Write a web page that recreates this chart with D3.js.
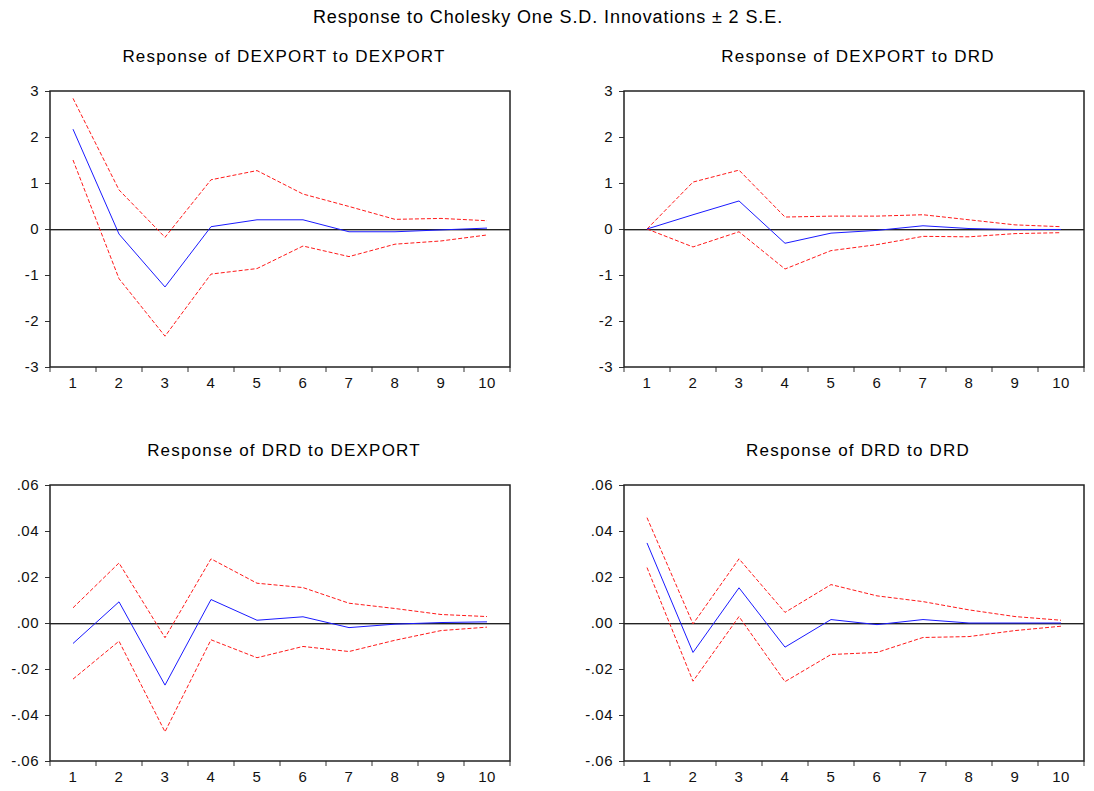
<!DOCTYPE html>
<html>
<head>
<meta charset="utf-8">
<script src="https://cdn.jsdelivr.net/npm/d3@7"></script>
<style>
  body { margin: 0; background: #fff; }
  svg { font-family: "Liberation Sans", Arial, sans-serif; }
</style>
</head>
<body>
<svg id="chart" width="1094" height="791"></svg>
<script>
// периоды
const periods = [1, 2, 3, 4, 5, 6, 7, 8, 9, 10];

// Response of DEXPORT to DEXPORT
const expExpResp  = [2.17, -0.11, -1.26, 0.05, 0.20, 0.20, -0.06, -0.06, -0.02, 0.02];
const expExpUpper = [2.84, 0.85, -0.18, 1.07, 1.27, 0.76, 0.49, 0.21, 0.23, 0.18];
const expExpLower = [1.50, -1.08, -2.33, -0.98, -0.86, -0.37, -0.60, -0.33, -0.26, -0.13];

// Response of DEXPORT to DRD
const expRdResp  = [0.00, 0.31, 0.61, -0.31, -0.09, -0.03, 0.07, 0.01, -0.01, -0.01];
const expRdUpper = [0.00, 1.02, 1.28, 0.26, 0.28, 0.28, 0.31, 0.20, 0.09, 0.05];
const expRdLower = [0.00, -0.39, -0.06, -0.87, -0.47, -0.34, -0.16, -0.17, -0.10, -0.08];

// Response of DRD to DEXPORT
const rdExpResp  = [-0.0089, 0.0092, -0.0270, 0.0102, 0.0012, 0.0027, -0.0020, -0.0005, 0.0002, 0.0005];
const rdExpUpper = [0.0066, 0.0261, -0.0064, 0.0279, 0.0173, 0.0154, 0.0086, 0.0063, 0.0037, 0.0028];
const rdExpLower = [-0.0244, -0.0079, -0.0473, -0.0073, -0.0151, -0.0102, -0.0124, -0.0075, -0.0033, -0.0018];

// Response of DRD to DRD
const rdRdResp  = [0.0348, -0.0128, 0.0153, -0.0105, 0.0015, -0.0007, 0.0015, 0.0000, 0.0000, 0.0000];
const rdRdUpper = [0.0458, -0.0004, 0.0279, 0.0046, 0.0167, 0.0118, 0.0093, 0.0057, 0.0028, 0.0012];
const rdRdLower = [0.0241, -0.0253, 0.0028, -0.0255, -0.0137, -0.0128, -0.0063, -0.0059, -0.0033, -0.0014];

// подписи осей OY
const ticksTop = [-3, -2, -1, 0, 1, 2, 3];
const ticksBottom = [-0.06, -0.04, -0.02, 0, 0.02, 0.04, 0.06];

const mainTitle = "Response to Cholesky One S.D. Innovations \u00b1 2 S.E.";

// формат с обычным дефисом вместо знака минус
const loc = d3.formatLocale({decimal: ".", thousands: ",", grouping: [3], currency: ["", ""], minus: "-"});
const fmtInt = loc.format("d");
const fmtDec = d => loc.format(".2f")(d).replace("0.", ".");

const panels = [
    {title: "Response of DEXPORT to DEXPORT", resp: expExpResp, upper: expExpUpper, lower: expExpLower,
     ticks: ticksTop, domain: [-3, 3], fmt: fmtInt, x: 50, y: 91},
    {title: "Response of DEXPORT to DRD", resp: expRdResp, upper: expRdUpper, lower: expRdLower,
     ticks: ticksTop, domain: [-3, 3], fmt: fmtInt, x: 624, y: 91},
    {title: "Response of DRD to DEXPORT", resp: rdExpResp, upper: rdExpUpper, lower: rdExpLower,
     ticks: ticksBottom, domain: [-0.06, 0.06], fmt: fmtDec, x: 50, y: 485},
    {title: "Response of DRD to DRD", resp: rdRdResp, upper: rdRdUpper, lower: rdRdLower,
     ticks: ticksBottom, domain: [-0.06, 0.06], fmt: fmtDec, x: 624, y: 485}
];

const attr_area = { width: 460, height: 276 };

const svg = d3.select("#chart");

svg.append("text")
    .attr("x", 548)
    .attr("y", 23)
    .attr("text-anchor", "middle")
    .style("font-size", "18px")
    .style("letter-spacing", "0.9px")
    .text(mainTitle);

panels.forEach(p => drawPanel(svg, p));

function drawPanel(svg, p) {
    const g = svg.append("g")
        .attr("transform", `translate(${p.x}, ${p.y})`);

    let scaleX = d3.scaleBand()
        .domain(periods)
        .range([0, attr_area.width]);

    let scaleY = d3.scaleLinear()
        .domain(p.domain)
        .range([attr_area.height, 0]);

    const cx = d => scaleX(d) + scaleX.bandwidth() / 2;

    // заголовок панели
    g.append("text")
        .attr("x", attr_area.width / 2 + 4)
        .attr("y", -29)
        .attr("text-anchor", "middle")
        .style("font-size", "17px")
        .style("letter-spacing", "1.2px")
        .text(p.title);

    // ось OY
    g.append("g")
        .call(d3.axisLeft(scaleY).tickValues(p.ticks).tickFormat(p.fmt).tickSize(5).tickPadding(6))
        .call(a => a.select(".domain").remove())
        .call(a => a.selectAll("line").attr("stroke", "#333"))
        .selectAll("text")
        .style("font-size", "15px")
        .style("letter-spacing", "0.5px")
        .attr("fill", "#111");

    // ось OX: подписи в центре, засечки на границах
    g.append("g")
        .attr("transform", `translate(0, ${attr_area.height})`)
        .call(d3.axisBottom(scaleX).tickSize(0).tickPadding(10))
        .call(a => a.select(".domain").remove())
        .selectAll("text")
        .style("font-size", "15px")
        .style("letter-spacing", "0.5px")
        .attr("fill", "#111");

    const bounds = periods.map(d => scaleX(d)).concat([scaleX.range()[1]]);
    g.append("g")
        .selectAll("line")
        .data(bounds)
        .enter()
        .append("line")
        .attr("x1", d => d)
        .attr("x2", d => d)
        .attr("y1", attr_area.height)
        .attr("y2", attr_area.height + 5)
        .attr("stroke", "#333");

    // нулевая линия
    g.append("line")
        .attr("x1", 0).attr("x2", attr_area.width)
        .attr("y1", scaleY(0) + 1.5).attr("y2", scaleY(0) + 1.5)
        .attr("stroke", "#aaa");
    g.append("line")
        .attr("x1", 0).attr("x2", attr_area.width)
        .attr("y1", scaleY(0) + 0.5).attr("y2", scaleY(0) + 0.5)
        .attr("stroke", "#222");

    const line = d3.line()
        .x((d, i) => cx(periods[i]))
        .y(d => scaleY(d));

    [p.upper, p.lower].forEach(s => {
        g.append("path")
            .datum(s)
            .attr("d", line)
            .attr("fill", "none")
            .attr("stroke", "#ff1a1a")
            .attr("stroke-width", 1)
            .attr("stroke-dasharray", "4,2");
    });

    g.append("path")
        .datum(p.resp)
        .attr("d", line)
        .attr("fill", "none")
        .attr("stroke", "#1a1aff")
        .attr("stroke-width", 1);

    // рамка
    g.append("rect")
        .attr("width", attr_area.width)
        .attr("height", attr_area.height)
        .attr("fill", "none")
        .attr("stroke", "#222")
        .attr("stroke-width", 1.5);
}
</script>
</body>
</html>
